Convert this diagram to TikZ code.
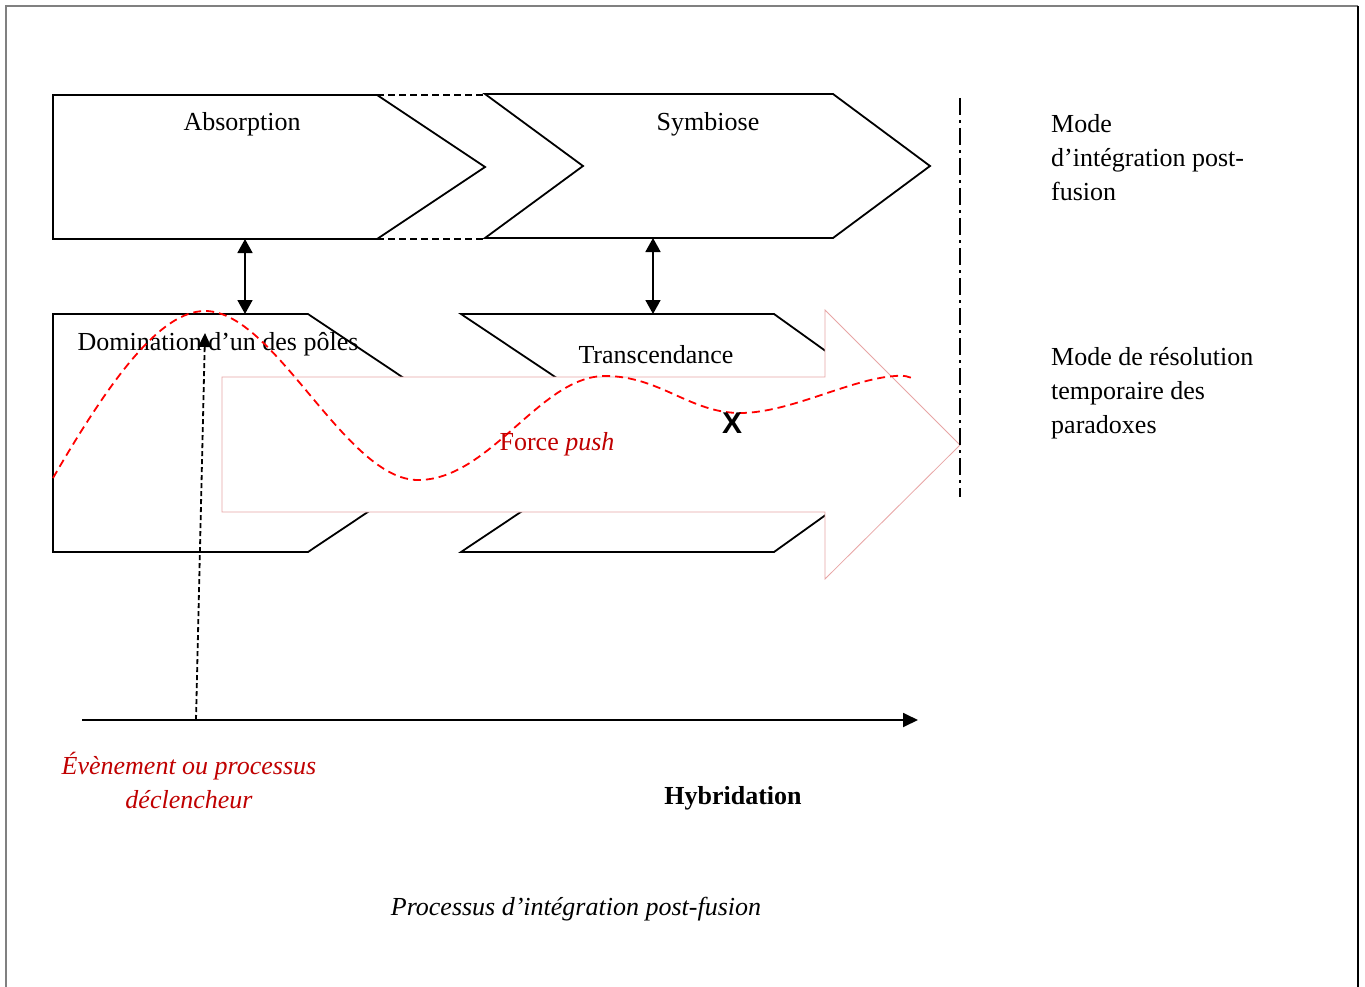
\documentclass[tikz,border=0pt]{standalone}
\usepackage{fontspec}
\setmainfont{Liberation Serif}
\newfontfamily\xsans{Liberation Sans}
\usetikzlibrary{arrows.meta}
\definecolor{darkred}{RGB}{192,0,0}
\definecolor{pinkline}{RGB}{232,165,165}
\definecolor{framegray}{RGB}{128,128,128}
\begin{document}
\begin{tikzpicture}[x=1pt,y=-1pt,
  chev/.style={draw=black,line width=1.8pt,line join=miter},
  lbl/.style={inner sep=0pt,font=\fontsize{26}{34}\selectfont},
  dbl/.style={{Triangle[length=14pt,width=15pt]}-{Triangle[length=14pt,width=15pt]},line width=1.8pt},
  wave/.style={red,line width=1.8pt,dash pattern=on 8pt off 5pt},
]
\useasboundingbox (0,0) rectangle (1365,987);
\fill[white] (0,0) rectangle (1365,987);
% frame
\draw[framegray,line width=1.6pt] (6,995) -- (6,6) -- (1358,6);
\draw[black,line width=1.6pt] (1358,6) -- (1358,995);

% top chevrons
\draw[chev] (53,95) -- (377,95) -- (485,167) -- (377,239) -- (53,239) -- cycle;
\draw[chev,dash pattern=on 7pt off 4pt] (377,95) -- (485,95);
\draw[chev,dash pattern=on 7pt off 4pt] (377,239) -- (485,239);
\draw[chev] (485,94) -- (833,94) -- (930,166) -- (833,238) -- (485,238) -- (583,166) -- cycle;

% lower shapes
\draw[chev] (53,314) -- (308,314) -- (486,433) -- (308,552) -- (53,552) -- cycle;
\draw[chev] (461,314) -- (774,314) -- (940,433) -- (774,552) -- (461,552) -- (639,433) -- cycle;

% double arrows
\coordinate (absB) at (245,239);
\coordinate (domT) at (245,314);
\coordinate (symB) at (653,238);
\coordinate (traT) at (653,314);
\draw[dbl] (absB) -- (domT);
\draw[dbl] (symB) -- (traT);

% labels of shapes
\node[lbl,anchor=base] (absT) at (242,131) {Absorption};
\node[lbl,anchor=base] (symT) at (708,131) {Symbiose};
\node[lbl,anchor=base] (domTxt) at (218,350) {Domination d’un des pôles};
\node[lbl,anchor=base] (traTxt) at (656,363) {Transcendance};

% big push arrow
\draw[pinkline,line width=0.8pt,fill=white] (222,377) -- (825,377) -- (825,310) -- (960,445) -- (825,579) -- (825,512) -- (222,512) -- cycle;

% dash-dot separator
\draw[line width=1.8pt,dash pattern=on 17pt off 5pt on 3pt off 5pt] (960,98) -- (960,497);

% wave
\draw[wave] (53,478) .. controls (110,380) and (160,311) .. (205,311)
  .. controls (275,311) and (345,480) .. (418,480)
  .. controls (490,480) and (540,376) .. (605,376)
  .. controls (660,376) and (690,413) .. (740,413)
  .. controls (790,413) and (850,379) .. (895,376)
  .. controls (905,375) and (910,377) .. (913,379);

\node[lbl,anchor=base,text=darkred] (force) at (557,450) {Force \textit{push}};
\node[anchor=base,inner sep=0pt,font=\xsans\bfseries\fontsize{30}{30}\selectfont] (X) at (732,433) {X};

% axis
\coordinate (ax0) at (82,720);
\coordinate (ax1) at (918,720);
\draw[line width=1.8pt,-{Triangle[length=15pt,width=14pt]}] (ax0) -- (ax1);

% trigger arrow
\coordinate (trig) at (196,720);
\coordinate (trigtip) at (205,333);
\draw[line width=1.8pt,dash pattern=on 5pt off 3pt,-{Triangle[length=14pt,width=13pt]}] (trig) -- (trigtip);

% texts
\node[lbl,anchor=base,align=center,text=darkred,font=\fontsize{26}{34}\selectfont\itshape] (evt) at (189,808) {Évènement ou processus\\déclencheur};
\node[lbl,anchor=base,font=\fontsize{26}{34}\selectfont\bfseries] (hyb) at (733,804) {Hybridation};
\node[lbl,anchor=base,font=\fontsize{26}{34}\selectfont\itshape] (title) at (576,915) {Processus d’intégration post-fusion};
\node[lbl,anchor=base west,align=left] (mode1) at (1051,201) {Mode\\d’intégration post-\\fusion};
\node[lbl,anchor=base west,align=left] (mode2) at (1051,433) {Mode de résolution\\temporaire des\\paradoxes};
\end{tikzpicture}
\end{document}
